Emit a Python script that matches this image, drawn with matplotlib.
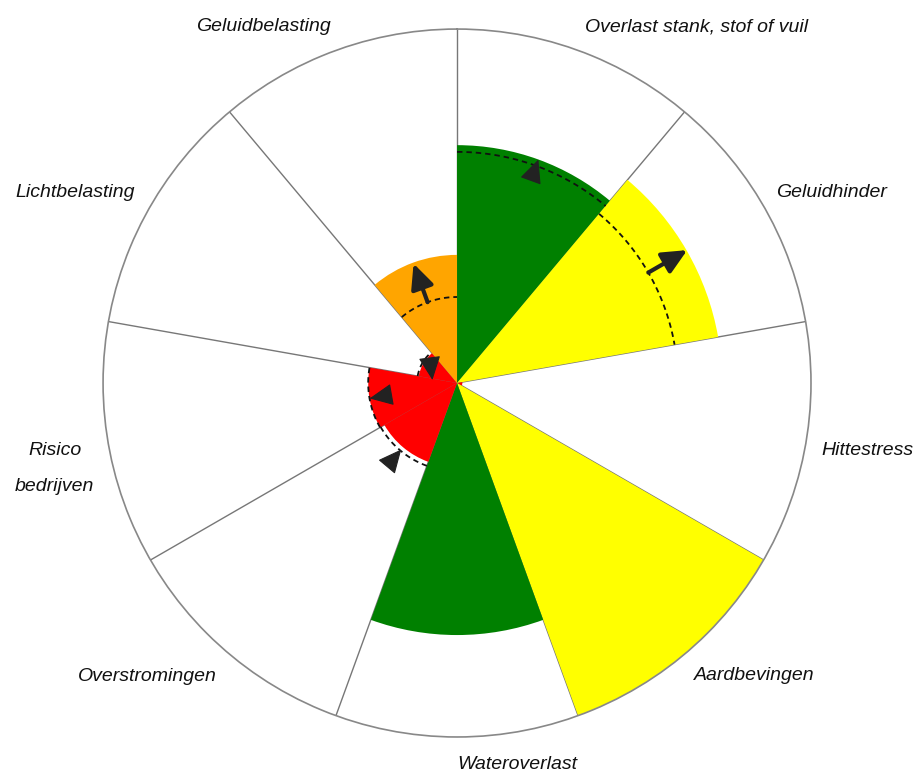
import matplotlib.pyplot as plt
import numpy as np

# sectors, clockwise from the top
categories = ["Overlast stank, stof of vuil", "Geluidhinder", "Hittestress", "Aardbevingen",
              "Wateroverlast", "Overstromingen", "Risico\nbedrijven", "Lichtbelasting",
              "Geluidbelasting"]
values = [0.672, 0.749, 0.015, 1.0, 0.712, 0.237, 0.251, 0.11, 0.362]
previous = [0.653, 0.624, None, None, None, 0.249, 0.251, 0.113, 0.243]
colors = ["#008000", "#ffff00", "#ff0000", "#ffff00", "#008000",
          "#ff0000", "#ff0000", "#ff0000", "#ffa500"]

# arrows: (theta start, r start, theta end, r end, with shaft)
arrows = [(20, 0.624, 20, 0.672, False),
          (60, 0.624, 60, 0.751, True),
          (220, 0.288, 220, 0.245, False),
          (260, 0.203, 260, 0.251, False),
          (303, 0.089, 277, 0.070, False),
          (340, 0.243, 340, 0.359, True)]

# label placement (angle, radius)
label_theta = [33.9, 63.0, 99.3, 134.5, 171.0, 226.5, 258.0, 296.5, 331.5]
label_r = [1.213, 1.187, 1.175, 1.178, 1.091, 1.205, 1.162, 1.205, 1.146]

n = len(categories)
width = 2 * np.pi / n
theta = np.arange(n) * width + width / 2

fig = plt.figure(figsize=(9.17, 7.73), dpi=100)
ax = fig.add_axes([0.1124, 0.0465, 0.772, 0.916], projection="polar")
ax.set_theta_zero_location("N")
ax.set_theta_direction(-1)
ax.set_ylim(0, 1)
ax.grid(False)
ax.set_xticks([])
ax.set_yticks([])
ax.spines["polar"].set_color("#888888")
ax.spines["polar"].set_linewidth(1.2)

# sector boundaries
for i in range(n):
    ax.plot([i * width, i * width], [0, 1], color="#777777", lw=1, zorder=1)

ax.bar(theta, values, width=width, color=colors, edgecolor="none", zorder=2)

# dashed previous values
for i, p in enumerate(previous):
    if p is None:
        continue
    t = np.linspace(i * width, (i + 1) * width, 60)
    ax.plot(t, np.full_like(t, p), color="#111111", lw=1.3, dashes=(3, 2.2), zorder=3)

for t0, r0, t1, r1, shaft in arrows:
    ax.annotate("", xy=(np.deg2rad(t1), r1), xytext=(np.deg2rad(t0), r0),
                arrowprops=dict(arrowstyle="-|>,head_length=15,head_width=7",
                                mutation_scale=1, color="#222222",
                                lw=3 if shaft else 0.8, shrinkA=0, shrinkB=0),
                zorder=4)

for lab, lt, lr in zip(categories, label_theta, label_r):
    ax.text(np.deg2rad(lt), lr, lab, ha="center", va="center", fontsize=14,
            style="italic", family="Liberation Sans", color="#111111",
            linespacing=2.5, clip_on=False)

fig.savefig("out.png", dpi=100)
